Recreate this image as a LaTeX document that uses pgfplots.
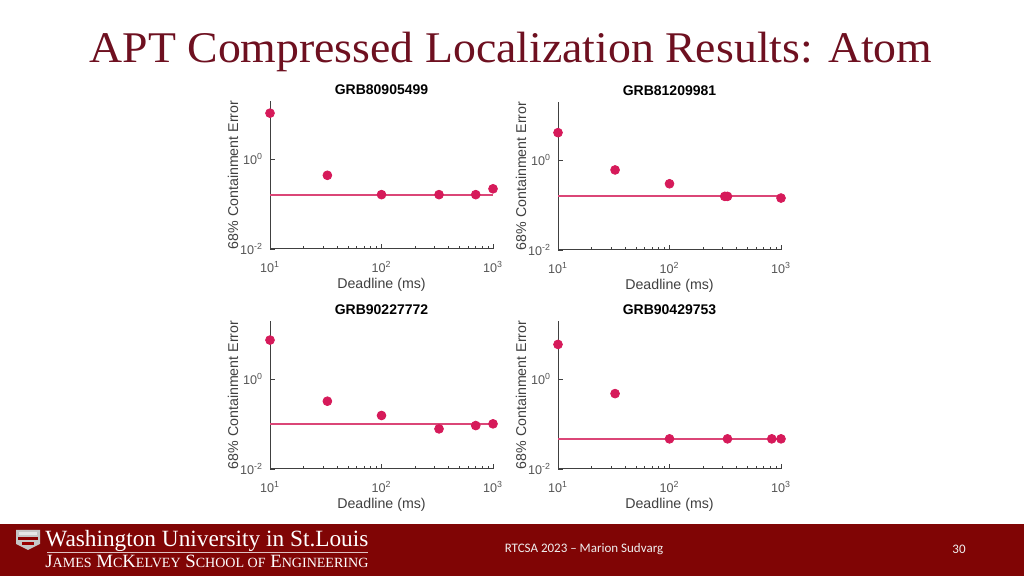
\documentclass[border=0pt]{standalone}
\usepackage{pgfplots}
\pgfplotsset{compat=1.18}
\usepackage{fontspec}
\setmainfont{Liberation Serif}
\setsansfont{Liberation Sans}
\newfontfamily\calibri{Carlito}

\definecolor{wured}{HTML}{800505}
\definecolor{titlered}{HTML}{6E1020}
\definecolor{mk}{HTML}{D61A5A}
\definecolor{ln}{HTML}{DB4677}
\definecolor{axgray}{HTML}{404040}
\definecolor{tickgray}{HTML}{555555}

\pgfplotsset{every axis/.append style={
    width=111.5pt, height=74pt, scale only axis,
    xmin=10, xmax=1000, ymin=0.01, ymax=20,
    axis x line*=bottom, axis y line*=left,
    axis line style={axgray, line width=0.5pt},
    xtick={10,100,1000}, ytick={0.01,1},
    xticklabels={10\textsuperscript{1},10\textsuperscript{2},10\textsuperscript{3}},
    yticklabels={10\textsuperscript{-2},10\textsuperscript{0}},
    minor xtick={20,30,40,50,60,70,80,90,200,300,400,500,600,700,800,900},
    tick align=inside,
    major tick length=2.5pt, minor tick length=1.5pt,
    tick style={axgray, line width=0.4pt},
    ticklabel style={font=\sffamily\fontsize{6.3}{6.3}\selectfont, text=tickgray},
    xticklabel shift=2.5pt,
    xlabel={Deadline (ms)},
    ylabel={68\% Containment Error},
    label style={font=\sffamily\fontsize{7.1}{7.1}\selectfont, text=axgray},
    xlabel style={at={(axis description cs:0.5,-0.24)}, anchor=center},
    ylabel style={at={(axis description cs:-0.166,0.5)}, anchor=center},
    every axis title shift=0pt,
    title style={font=\sffamily\bfseries\fontsize{7}{7}\selectfont,
      at={(axis description cs:0.5,1.075)}, anchor=center},
    clip=false,
  }}

\begin{document}
\begin{tikzpicture}
\path[use as bounding box, fill=white] (0,0) rectangle (512pt,288pt);

% slide title
\node[anchor=base, text=titlered, inner sep=0pt] at (255.5pt,256.5pt)
  {\scalebox{1.045}[1]{\fontsize{21.9}{22}\selectfont APT Compressed Localization Results: Atom}};

% footer band
\fill[wured] (0,0) rectangle (512pt,26pt);
\node[anchor=base west, text=white, inner sep=0pt] at (22.5pt,14.5pt)
  {\resizebox{161.5pt}{!}{\fontsize{11}{11}\selectfont Washington University in St.Louis}};
\draw[white!75!wured, line width=0.4pt] (23.5pt,12pt) -- (184pt,12pt);
\node[anchor=base west, text=white, inner sep=0pt] at (22.5pt,4pt)
  {\resizebox{161.5pt}{!}{\fontsize{8}{8}\selectfont J{\fontsize{6}{6}\selectfont AMES} M{\fontsize{6}{6}\selectfont C}K{\fontsize{6}{6}\selectfont ELVEY} S{\fontsize{6}{6}\selectfont CHOOL OF} E{\fontsize{6}{6}\selectfont NGINEERING}}};
% shield
\fill[gray!45] (8pt,23pt) -- (20pt,23pt) -- (20pt,16pt) -- (14pt,13pt) -- (8pt,16pt) -- cycle;
\fill[red!55!black] (9pt,19.5pt) rectangle (19pt,18pt);
\fill[white!80!gray] (9.5pt,22pt) rectangle (18.5pt,20.5pt);
\fill[red!60!black] (11pt,17pt) rectangle (17pt,15.5pt);
\node[text=white!88!gray, font=\calibri\fontsize{6.5}{6.5}\selectfont] at (292pt,13.5pt) {RTCSA 2023 – Marion Sudvarg};
\node[text=white!88!gray, font=\calibri\fontsize{6.5}{6.5}\selectfont] at (479.5pt,13.5pt) {30};

% GRB80905499
\begin{loglogaxis}[at={(135pt,163.5pt)}, anchor=south west, title={GRB80905499}]
\addplot[ln, line width=0.9pt, no marks] coordinates {(10,0.163) (1000,0.163)};
\addplot[only marks, mark=*, mark size=2.2pt, mark options={draw=mk, fill=mk}] coordinates {(10,10.7) (32.7,0.44) (100,0.163) (328,0.163) (700,0.163) (1000,0.22)};
\end{loglogaxis}

% GRB81209981
\begin{loglogaxis}[at={(279pt,163pt)}, anchor=south west, title={GRB81209981}]
\addplot[ln, line width=0.9pt, no marks] coordinates {(10,0.16) (1000,0.16)};
\addplot[only marks, mark=*, mark size=2.2pt, mark options={draw=mk, fill=mk}] coordinates {(10,4.14) (32.5,0.61) (100,0.30) (313,0.157) (331,0.157) (1000,0.144)};
\end{loglogaxis}

% GRB90227772
\begin{loglogaxis}[at={(135pt,53.5pt)}, anchor=south west, title={GRB90227772}]
\addplot[ln, line width=0.9pt, no marks] coordinates {(10,0.10) (1000,0.10)};
\addplot[only marks, mark=*, mark size=2.2pt, mark options={draw=mk, fill=mk}] coordinates {(10,7.5) (32.7,0.325) (100,0.156) (328,0.0785) (700,0.093) (1000,0.1016)};
\end{loglogaxis}

% GRB90429753
\begin{loglogaxis}[at={(279pt,53.5pt)}, anchor=south west, title={GRB90429753}]
\addplot[ln, line width=0.9pt, no marks] coordinates {(10,0.047) (1000,0.047)};
\addplot[only marks, mark=*, mark size=2.2pt, mark options={draw=mk, fill=mk}] coordinates {(10,6.0) (32.5,0.48) (100,0.047) (331,0.047) (826,0.047) (1000,0.047)};
\end{loglogaxis}
\end{tikzpicture}
\end{document}
